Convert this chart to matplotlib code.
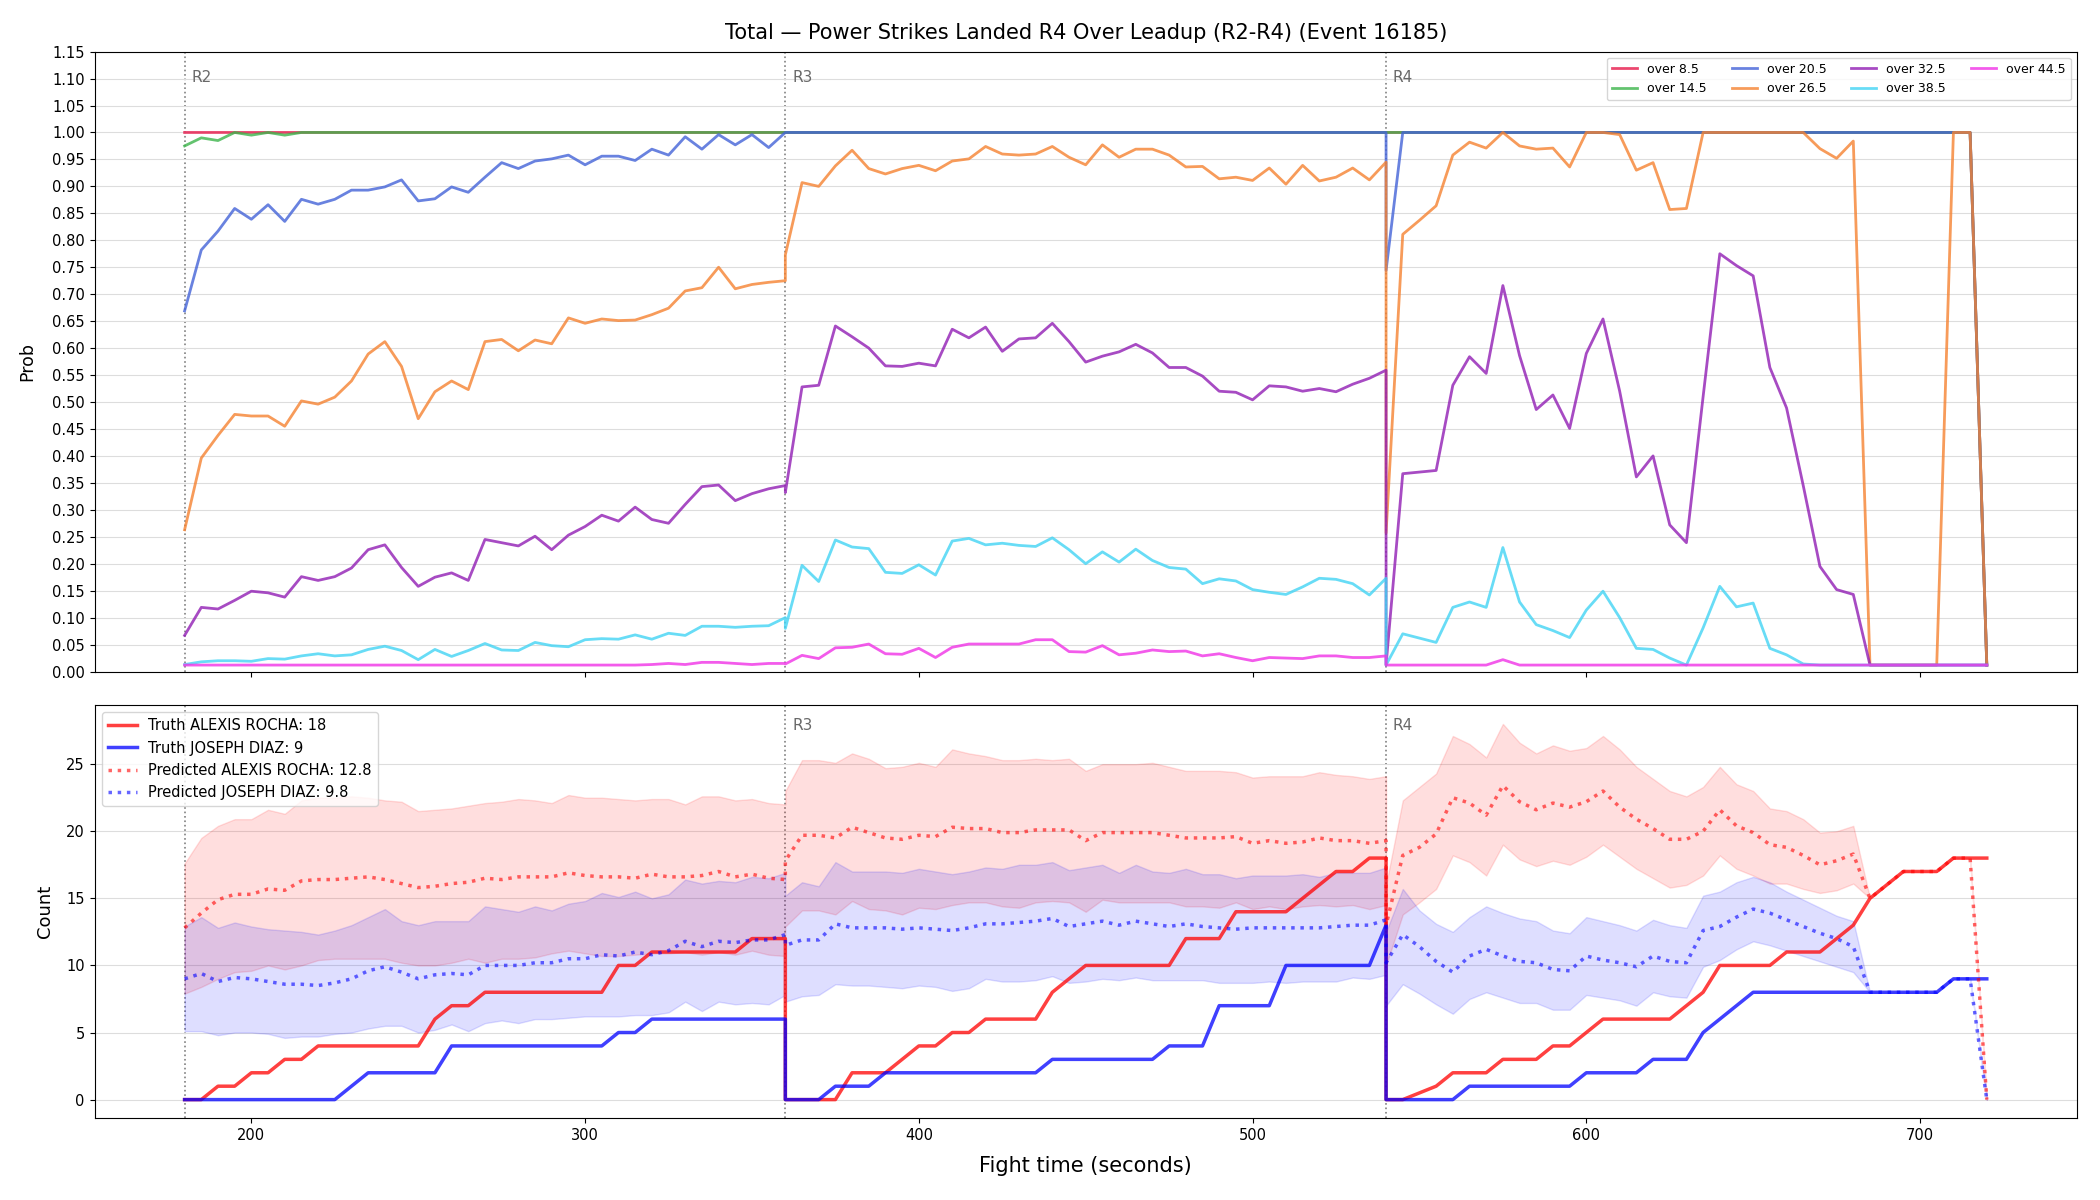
'''
power strikes landed R4 - prob lines over leadup (top) and count truth/pred (bottom)
values read per 5 s sample, one list per round (R2, R3, R4)
'''
import numpy as np
import matplotlib
matplotlib.use("Agg")
from matplotlib import pyplot as plt

title = "Total \u2014 Power Strikes Landed R4 Over Leadup (R2-R4) (Event 16185)"
rounds = ["R2", "R3", "R4"]
round_starts = [180, 360, 540]
thresholds = ["over 8.5", "over 14.5", "over 20.5", "over 26.5", "over 32.5", "over 38.5", "over 44.5"]
fighter_a = "ALEXIS ROCHA"
fighter_b = "JOSEPH DIAZ"
final_a = 18
final_b = 9
pred_final_a = 12.8
pred_final_b = 9.8

# ---------- top panel: probabilities ----------
over_8_5 = [
    [1.0] * 37,
    [1.0] * 37,
    [1.0] * 36 + [0.012],
]
over_14_5 = [
    [0.975, 0.99, 0.985, 1.0, 0.995, 1.0, 0.995] + [1.0] * 30,
    [1.0] * 37,
    [1.0] * 36 + [0.012],
]
over_20_5 = [
    [0.669, 0.782, 0.817, 0.859, 0.839, 0.866, 0.835, 0.876, 0.867, 0.876, 0.893, 0.893, 0.899, 0.912, 0.873, 0.877, 0.899, 0.889, 0.917,
     0.944, 0.933, 0.947, 0.951, 0.958, 0.940, 0.956, 0.956, 0.948, 0.969, 0.958, 0.992, 0.969, 0.996, 0.977, 0.996, 0.972, 1.0],
    [1.0] * 37,
    [0.744] + [1.0] * 35 + [0.012],
]
over_26_5 = [
    [0.263, 0.396, 0.438, 0.477, 0.474, 0.474, 0.455, 0.502, 0.496, 0.509, 0.539, 0.589, 0.612, 0.566, 0.469, 0.519, 0.539, 0.523, 0.612,
     0.616, 0.595, 0.615, 0.608, 0.656, 0.646, 0.654, 0.651, 0.652, 0.662, 0.674, 0.706, 0.712, 0.750, 0.710, 0.718, 0.722, 0.725],
    [0.773, 0.907, 0.900, 0.938, 0.967, 0.933, 0.923, 0.933, 0.939, 0.929, 0.947, 0.951, 0.974, 0.960, 0.958, 0.960, 0.974, 0.954, 0.940,
     0.977, 0.954, 0.969, 0.969, 0.958, 0.936, 0.937, 0.914, 0.917, 0.911, 0.934, 0.904, 0.939, 0.910, 0.917, 0.934, 0.912, 0.945],
    [0.257, 0.811, 0.837, 0.864, 0.958, 0.982, 0.971, 1.0, 0.975, 0.969, 0.971, 0.936, 1.0, 1.0, 0.996, 0.930, 0.944, 0.857, 0.859,
     1.0, 1.0, 1.0, 1.0, 1.0, 1.0, 1.0, 0.970, 0.952, 0.984, 0.012, 0.012, 0.012, 0.012, 0.012, 1.0, 1.0, 0.012],
]
over_32_5 = [
    [0.067, 0.119, 0.116, 0.132, 0.149, 0.146, 0.138, 0.176, 0.169, 0.176, 0.192, 0.226, 0.235, 0.193, 0.158, 0.175, 0.183, 0.169, 0.245,
     0.239, 0.233, 0.251, 0.226, 0.253, 0.269, 0.290, 0.279, 0.305, 0.282, 0.275, 0.310, 0.343, 0.346, 0.317, 0.330, 0.339, 0.345],
    [0.332, 0.528, 0.531, 0.641, 0.621, 0.600, 0.567, 0.566, 0.572, 0.567, 0.635, 0.619, 0.639, 0.594, 0.617, 0.619, 0.646, 0.612, 0.574,
     0.585, 0.593, 0.607, 0.591, 0.564, 0.564, 0.548, 0.520, 0.518, 0.504, 0.530, 0.528, 0.520, 0.525, 0.519, 0.533, 0.544, 0.559],
    [0.012, 0.367, 0.370, 0.373, 0.531, 0.584, 0.553, 0.716, 0.586, 0.486, 0.513, 0.451, 0.590, 0.654, 0.520, 0.361, 0.400, 0.272, 0.239,
     0.51, 0.775, 0.753, 0.734, 0.564, 0.489, 0.345, 0.195, 0.152, 0.143] + [0.012] * 8,
]
over_38_5 = [
    [0.013, 0.018, 0.020, 0.020, 0.019, 0.024, 0.023, 0.029, 0.033, 0.029, 0.031, 0.041, 0.047, 0.039, 0.022, 0.041, 0.028, 0.039, 0.052,
     0.040, 0.039, 0.054, 0.048, 0.046, 0.059, 0.061, 0.060, 0.068, 0.060, 0.071, 0.067, 0.084, 0.084, 0.082, 0.084, 0.085, 0.100],
    [0.080, 0.197, 0.167, 0.244, 0.231, 0.228, 0.184, 0.182, 0.198, 0.179, 0.242, 0.247, 0.235, 0.238, 0.234, 0.232, 0.248, 0.226, 0.200,
     0.222, 0.203, 0.227, 0.206, 0.193, 0.190, 0.163, 0.172, 0.168, 0.152, 0.147, 0.143, 0.157, 0.173, 0.171, 0.163, 0.142, 0.173],
    [0.012, 0.070, 0.062, 0.054, 0.119, 0.129, 0.119, 0.230, 0.129, 0.087, 0.076, 0.063, 0.114, 0.149, 0.100, 0.043, 0.041, 0.025, 0.012,
     0.081, 0.158, 0.120, 0.127, 0.043, 0.031, 0.014] + [0.012] * 11,
]
over_44_5 = [
    [0.012] * 28 + [0.013, 0.015, 0.013, 0.017, 0.017, 0.015, 0.013, 0.015, 0.015],
    [0.014, 0.030, 0.024, 0.044, 0.045, 0.051, 0.033, 0.032, 0.043, 0.026, 0.045, 0.051, 0.051, 0.051, 0.051, 0.059, 0.059, 0.037, 0.036,
     0.048, 0.031, 0.034, 0.040, 0.037, 0.038, 0.029, 0.033, 0.026, 0.020, 0.026, 0.025, 0.024, 0.029, 0.029, 0.026, 0.026, 0.029],
    [0.012] * 7 + [0.022] + [0.012] * 29,
]
prob_series = [over_8_5, over_14_5, over_20_5, over_26_5, over_32_5, over_38_5, over_44_5]
prob_colors = ["#e6194b", "#3cb44b", "#4363d8", "#f58231", "#911eb4", "#42d4f4", "#f032e6"]

# ---------- bottom panel: counts ----------
truth_a = [
    [0, 0, 1, 1, 2, 2, 3, 3, 4, 4, 4, 4, 4, 4, 4, 6, 7, 7, 8,
     8, 8, 8, 8, 8, 8, 8, 10, 10, 11, 11, 11, 11, 11, 11, 12, 12, 12],
    [0, 0, 0, 0, 2, 2, 2, 3, 4, 4, 5, 5, 6, 6, 6, 6, 8, 9, 10,
     10, 10, 10, 10, 10, 12, 12, 12, 14, 14, 14, 14, 15, 16, 17, 17, 18, 18],
    [0, 0, 0.5, 1, 2, 2, 2, 3, 3, 3, 4, 4, 5, 6, 6, 6, 6, 6, 7,
     8, 10, 10, 10, 10, 11, 11, 11, 12, 13, 15, 16, 17, 17, 17, 18, 18, 18],
]
truth_b = [
    [0, 0, 0, 0, 0, 0, 0, 0, 0, 0, 1, 2, 2, 2, 2, 2, 4, 4, 4,
     4, 4, 4, 4, 4, 4, 4, 5, 5, 6, 6, 6, 6, 6, 6, 6, 6, 6],
    [0, 0, 0, 1, 1, 1, 2, 2, 2, 2, 2, 2, 2, 2, 2, 2, 3, 3, 3,
     3, 3, 3, 3, 4, 4, 4, 7, 7, 7, 7, 10, 10, 10, 10, 10, 10, 13],
    [0, 0, 0, 0, 0, 1, 1, 1, 1, 1, 1, 1, 2, 2, 2, 2, 3, 3, 3,
     5, 6, 7, 8, 8, 8, 8, 8, 8, 8, 8, 8, 8, 8, 8, 9, 9, 9],
]
pred_a = [
    [12.8, 13.9, 14.9, 15.3, 15.3, 15.7, 15.6, 16.3, 16.4, 16.4, 16.5, 16.6, 16.4, 16.1, 15.8, 15.9, 16.1, 16.2, 16.5,
     16.4, 16.6, 16.6, 16.6, 16.9, 16.7, 16.6, 16.6, 16.5, 16.8, 16.6, 16.6, 16.7, 17.0, 16.6, 16.8, 16.5, 16.4],
    [17.8, 19.7, 19.7, 19.5, 20.3, 19.9, 19.5, 19.4, 19.7, 19.6, 20.3, 20.2, 20.2, 19.9, 19.9, 20.1, 20.1, 20.1, 19.3,
     19.9, 19.9, 19.9, 19.9, 19.7, 19.5, 19.5, 19.5, 19.6, 19.1, 19.3, 19.1, 19.2, 19.5, 19.3, 19.3, 19.1, 19.3],
    [13.0, 18.2, 18.8, 19.8, 22.5, 22.1, 21.2, 23.4, 22.2, 21.6, 22.1, 21.8, 22.2, 23.0, 21.8, 20.9, 20.2, 19.4, 19.4,
     20.0, 21.6, 20.4, 19.9, 19.0, 18.8, 18.2, 17.5, 17.8, 18.3, 15, 16, 17, 17, 17, 18, 18, 0],
]
pred_a_lo = [
    [7.9, 8.4, 9.0, 9.5, 9.6, 10.0, 9.7, 10.0, 10.4, 10.5, 10.5, 10.5, 10.5, 10.2, 10.0, 10.0, 10.2, 10.5, 10.2,
     10.5, 10.5, 10.6, 10.9, 11.1, 10.9, 10.7, 10.7, 10.8, 10.9, 10.9, 11.0, 10.8, 11.0, 10.8, 11.1, 10.8, 10.7],
    [12.9, 14.1, 14.1, 13.8, 14.8, 14.2, 14.1, 13.8, 14.3, 14.2, 14.5, 14.7, 14.7, 14.4, 14.3, 14.7, 14.8, 14.7, 14.0,
     14.9, 14.7, 14.7, 14.7, 14.7, 14.4, 14.4, 14.3, 14.7, 14.2, 14.4, 14.2, 14.4, 14.5, 14.4, 14.5, 14.2, 14.5],
    [10.0, 13.8, 14.7, 15.7, 18.2, 17.7, 16.7, 19.0, 17.9, 17.4, 17.8, 17.5, 18.1, 19.0, 18.1, 17.2, 16.5, 15.8, 16.0,
     16.7, 18.2, 17.2, 16.7, 16.1, 16.1, 15.7, 15.4, 15.6, 16.1, 15, 16, 17, 17, 17, 18, 18, 0],
]
pred_a_hi = [
    [17.6, 19.5, 20.4, 20.9, 20.9, 21.6, 21.3, 22.3, 22.5, 22.5, 22.6, 22.5, 22.3, 22.2, 21.5, 21.6, 21.7, 21.9, 22.1,
     22.2, 22.4, 22.3, 22.1, 22.7, 22.5, 22.5, 22.4, 22.3, 22.4, 22.4, 22.0, 22.6, 22.6, 22.3, 22.4, 22.1, 22.0],
    [23.0, 25.3, 25.3, 25.1, 25.8, 25.4, 24.7, 24.8, 25.1, 24.8, 26.1, 25.8, 25.6, 25.3, 25.3, 25.4, 25.3, 25.4, 24.5,
     25.0, 25.0, 25.0, 25.1, 24.8, 24.5, 24.5, 24.5, 24.4, 24.0, 24.1, 24.1, 24.1, 24.4, 24.2, 24.1, 23.9, 24.1],
    [16.0, 22.3, 23.3, 24.3, 27.1, 26.5, 25.5, 28.0, 26.6, 25.8, 26.4, 26.0, 26.2, 27.1, 26.1, 24.8, 23.9, 23.0, 22.6,
     23.3, 24.8, 23.5, 23.0, 21.7, 21.5, 20.9, 19.9, 20.0, 20.4, 15, 16, 17, 17, 17, 18, 18, 0],
]
pred_b = [
    [9.0, 9.4, 8.8, 9.1, 9.0, 8.8, 8.6, 8.6, 8.5, 8.7, 9.0, 9.6, 9.9, 9.5, 9.0, 9.3, 9.4, 9.3, 10.0,
     10.0, 10.0, 10.2, 10.2, 10.5, 10.5, 10.8, 10.7, 11.0, 10.8, 11.1, 11.8, 11.4, 11.8, 11.7, 11.9, 11.9, 12.3],
    [11.5, 11.9, 11.9, 13.1, 12.8, 12.8, 12.8, 12.7, 12.8, 12.7, 12.6, 12.8, 13.1, 13.1, 13.2, 13.3, 13.5, 12.9, 13.1,
     13.3, 13.0, 13.3, 13.1, 12.9, 13.1, 12.9, 12.8, 12.7, 12.8, 12.8, 12.8, 12.8, 12.8, 12.9, 13.0, 13.0, 13.4],
    [10.2, 12.3, 11.4, 10.3, 9.5, 10.7, 11.2, 10.7, 10.3, 10.2, 9.7, 9.6, 10.7, 10.4, 10.2, 9.9, 10.7, 10.3, 10.2,
     12.6, 12.9, 13.6, 14.2, 13.9, 13.4, 12.9, 12.4, 12.0, 11.4, 8, 8, 8, 8, 8, 9, 9, 0],
]
pred_b_lo = [
    [5.1, 5.1, 4.8, 5.0, 5.0, 4.9, 4.6, 4.7, 4.7, 4.9, 5.0, 5.3, 5.5, 5.5, 5.0, 5.2, 5.6, 5.1, 5.7,
     5.9, 5.7, 6.0, 6.0, 6.1, 6.2, 6.2, 6.2, 6.3, 6.3, 6.5, 7.3, 6.6, 7.3, 7.1, 7.2, 7.1, 7.8],
    [7.3, 7.7, 7.8, 8.6, 8.5, 8.5, 8.4, 8.3, 8.5, 8.4, 8.1, 8.3, 9.0, 8.8, 8.8, 8.9, 9.2, 8.7, 8.8,
     9.0, 8.9, 9.1, 8.9, 8.9, 8.9, 8.9, 8.7, 8.7, 8.7, 8.8, 8.7, 8.8, 8.8, 8.8, 9.1, 9.0, 9.3],
    [7.0, 8.6, 7.9, 7.1, 6.4, 7.5, 8.0, 7.6, 7.2, 7.2, 6.7, 6.7, 7.8, 7.6, 7.4, 7.0, 8.0, 7.7, 7.6,
     9.9, 10.4, 11.2, 11.8, 11.5, 11.1, 10.7, 10.3, 9.9, 9.5, 8, 8, 8, 8, 8, 9, 9, 0],
]
pred_b_hi = [
    [12.9, 13.6, 12.8, 13.2, 12.9, 12.7, 12.6, 12.5, 12.3, 12.6, 13.0, 13.6, 14.2, 13.3, 13.0, 13.3, 13.3, 13.3, 14.4,
     14.2, 14.0, 14.4, 14.1, 14.6, 14.8, 15.4, 15.1, 15.5, 15.0, 15.3, 16.4, 16.1, 16.3, 16.2, 16.6, 16.5, 16.9],
    [15.2, 16.2, 15.9, 17.7, 17.0, 17.0, 17.0, 16.9, 17.2, 17.0, 16.8, 17.0, 17.3, 17.2, 17.5, 17.5, 17.7, 17.1, 17.3,
     17.5, 16.9, 17.5, 17.0, 16.9, 17.2, 16.8, 16.8, 16.5, 16.7, 16.7, 16.7, 16.8, 16.6, 16.9, 16.9, 16.9, 17.3],
    [12.5, 15.7, 14.1, 13.1, 12.5, 13.6, 14.4, 13.9, 13.5, 13.3, 12.6, 12.4, 13.6, 13.3, 13.0, 12.6, 13.4, 13.0, 12.8,
     15.2, 15.5, 16.2, 16.6, 16.2, 15.5, 14.9, 14.3, 13.7, 13.3, 8, 8, 8, 8, 8, 9, 9, 0],
]

# time axis: each round sampled every 5 s, rounds share the boundary second
t = np.concatenate([np.arange(s, s + 181, 5) for s in round_starts])


def flat(rounds_list):
    out = np.concatenate([np.asarray(r, dtype=float) for r in rounds_list])
    assert len(out) == len(t), len(out)
    return out


fig, (ax1, ax2) = plt.subplots(2, 1, figsize=(21, 12), dpi=100, sharex=True,
                               gridspec_kw={"height_ratios": [1.5, 1]})
fig.subplots_adjust(left=0.045, right=0.989, top=0.957, bottom=0.068, hspace=0.065)

# top
for name, series, col in zip(thresholds, prob_series, prob_colors):
    ax1.plot(t, flat(series), color=col, alpha=0.8, lw=2, label=name)
ax1.set_ylim(0, 1.15)
ax1.set_yticks(np.arange(0, 1.151, 0.05))
ax1.yaxis.set_major_formatter(matplotlib.ticker.FormatStrFormatter("%.2f"))
ax1.set_ylabel("Prob", fontsize=12.5, labelpad=11)
ax1.set_title(title, fontsize=15, pad=9)
ax1.grid(axis="y", color="#dddddd", lw=0.8)
ax1.set_axisbelow(True)
ax1.legend(loc="upper right", ncol=4, fontsize=9)

# bottom
ax2.fill_between(t, flat(pred_a_lo), flat(pred_a_hi), color="red", alpha=0.13)
ax2.fill_between(t, flat(pred_b_lo), flat(pred_b_hi), color="blue", alpha=0.13)
ax2.plot(t, flat(truth_a), color="red", alpha=0.75, lw=2.5, label="Truth %s: %d" % (fighter_a, final_a))
ax2.plot(t, flat(truth_b), color="blue", alpha=0.75, lw=2.5, label="Truth %s: %d" % (fighter_b, final_b))
ax2.plot(t, flat(pred_a), color="red", alpha=0.6, lw=2.5, ls=":", label="Predicted %s: %.1f" % (fighter_a, pred_final_a))
ax2.plot(t, flat(pred_b), color="blue", alpha=0.6, lw=2.5, ls=":", label="Predicted %s: %.1f" % (fighter_b, pred_final_b))
ax2.set_ylabel("Count", fontsize=13, labelpad=9)
ax2.set_xlabel("Fight time (seconds)", fontsize=15, labelpad=9)
ax2.grid(axis="y", color="#dddddd", lw=0.8)
ax2.set_axisbelow(True)
ax2.legend(loc="upper left", fontsize=10.5)

for ax in (ax1, ax2):
    ax.tick_params(labelsize=10.5)

# round markers (R2 label in the bottom panel sits under the legend, so skip it)
for ax in (ax1, ax2):
    for lab, s in zip(rounds, round_starts):
        ax.axvline(s, color="gray", ls=":", lw=1.2, zorder=0.5)
        if ax is ax2 and lab == "R2":
            continue
        ax.text(s + 2, 0.97, lab, transform=ax.get_xaxis_transform(), va="top",
                ha="left", color="dimgray", fontsize=11)

fig.savefig("out.png", dpi=100)
